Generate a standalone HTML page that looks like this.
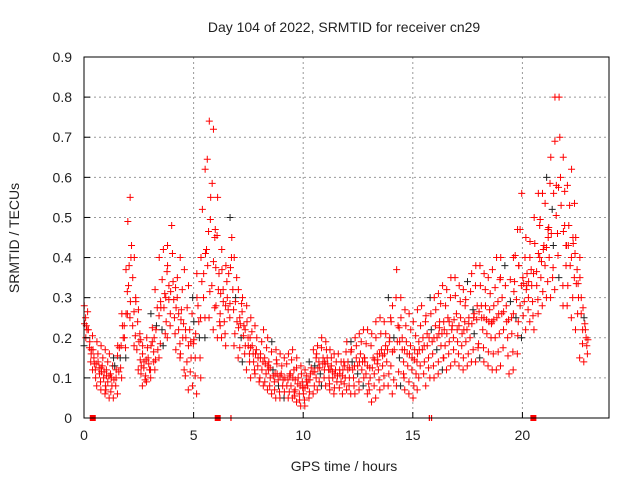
<!DOCTYPE html>
<html><head><meta charset="utf-8"><style>
body{margin:0;background:#fff}
svg text{font-family:"Liberation Sans",sans-serif;font-size:14px;fill:#222}
</style></head><body>
<svg id="c" width="640" height="480" xmlns="http://www.w3.org/2000/svg">
<rect width="640" height="480" fill="#fff"/>
<text x="344" y="32" text-anchor="middle">Day 104 of 2022, SRMTID for receiver cn29</text>
<text x="344" y="471" text-anchor="middle">GPS time / hours</text>
<text transform="translate(19,238) rotate(-90)" text-anchor="middle">SRMTID / TECUs</text>
<g id="grid"></g><g id="pts"></g><g id="ax"></g>
</svg>
<script>
const t0 = 0, dt = 0.2;
const lowVals = [.18,.12,.08,.07,.06,.05,.05,.06,.10,.15,.25,.18,.12,.08,.09,.10,.12,.15,.18,.20,.17,.15,.12,.07,.08,.06,.10,.20,.25,.22,.20,.20,.18,.25,.18,.15,.14,.12,.10,.09,.08,.07,.06,.05,.05,.05,.05,.05,.04,.03,.03,.05,.06,.07,.08,.08,.07,.06,.06,.07,.06,.06,.07,.08,.06,.04,.05,.07,.08,.08,.06,.08,.08,.07,.06,.05,.07,.08,.10,.10,.11,.12,.12,.13,.14,.13,.12,.13,.14,.14,.15,.14,.13,.12,.12,.13,.11,.12,.16,.20,.22,.24,.22,.26,.28,.30,.30,.32,.35,.28,.28,.25,.22,.15,.14];
const midLowVals = [.22,.16,.12,.11,.10,.09,.08,.10,.15,.20,.33,.23,.17,.11,.12,.14,.17,.22,.24,.26,.25,.22,.20,.14,.15,.15,.20,.30,.38,.33,.28,.26,.24,.32,.24,.20,.18,.16,.14,.13,.12,.11,.10,.09,.08,.08,.08,.08,.07,.06,.06,.08,.10,.11,.12,.12,.10,.09,.09,.10,.10,.10,.11,.12,.11,.10,.11,.12,.13,.14,.13,.15,.14,.13,.12,.11,.13,.14,.15,.16,.17,.18,.18,.19,.20,.19,.18,.19,.20,.21,.22,.21,.20,.20,.21,.22,.20,.21,.25,.28,.29,.30,.29,.33,.35,.38,.40,.43,.46,.38,.38,.35,.30,.22,.18];
const midHighVals = [.25,.19,.15,.14,.13,.12,.11,.13,.20,.26,.43,.30,.21,.14,.15,.19,.23,.29,.31,.33,.34,.30,.27,.22,.22,.24,.28,.42,.55,.45,.36,.32,.30,.40,.30,.25,.23,.20,.18,.17,.16,.15,.14,.12,.11,.11,.11,.12,.10,.09,.09,.11,.13,.14,.15,.15,.13,.12,.12,.14,.14,.14,.15,.16,.15,.15,.16,.17,.18,.20,.20,.23,.20,.19,.18,.17,.19,.20,.21,.22,.23,.24,.24,.25,.26,.25,.24,.25,.27,.28,.28,.28,.27,.28,.29,.30,.28,.29,.34,.38,.35,.36,.37,.40,.43,.47,.52,.58,.60,.48,.48,.45,.37,.30,.22];
const highVals = [.28,.22,.19,.18,.17,.16,.15,.18,.26,.37,.55,.40,.27,.18,.20,.26,.32,.40,.42,.43,.48,.40,.37,.33,.30,.36,.40,.62,.74,.72,.55,.42,.38,.50,.40,.32,.30,.28,.25,.23,.22,.20,.19,.17,.16,.15,.16,.17,.15,.13,.12,.14,.17,.18,.20,.19,.17,.16,.16,.19,.19,.20,.21,.22,.22,.21,.24,.25,.24,.30,.28,.37,.30,.27,.26,.24,.27,.28,.30,.30,.31,.33,.32,.35,.35,.33,.32,.34,.36,.38,.38,.36,.35,.37,.40,.40,.38,.40,.47,.56,.45,.44,.50,.56,.56,.60,.65,.80,.80,.65,.58,.62,.45,.40,.25];
const gapTimes = [0.4, 6.1, 20.5];
const gapTicks = [6.7, 15.75, 15.85];
const xTicks = [0,5,10,15,20];
const yTicks = [0,0.1,0.2,0.3,0.4,0.5,0.6,0.7,0.8,0.9];

const L=84,R=609,T=57,B=418,XMAX=23.95,YMAX=0.9;
const X=v=>L+v/XMAX*(R-L), Y=v=>B-v/YMAX*(B-T);
const NS="http://www.w3.org/2000/svg";
function mk(tag,attrs,parent){const e=document.createElementNS(NS,tag);for(const k in attrs)e.setAttribute(k,attrs[k]);parent.appendChild(e);return e;}
const grid=document.getElementById('grid'),pts=document.getElementById('pts'),ax=document.getElementById('ax');
xTicks.forEach(v=>{
  if(v>0){const g=mk('line',{x1:X(v),x2:X(v),y1:T,y2:B,stroke:'#999','stroke-dasharray':'2,3','stroke-width':1},grid);
  
  }
  const tk=mk('line',{x1:X(v),x2:X(v),y1:B,y2:B-6,stroke:'#000'},ax);
  
  
  const t=mk('text',{x:X(v),y:B+22,'text-anchor':'middle'},ax);t.textContent=v;
  
  
});
yTicks.forEach(v=>{
  if(v>0&&v<0.9){const g=mk('line',{x1:L,x2:R,y1:Y(v),y2:Y(v),stroke:'#999','stroke-dasharray':'2,3','stroke-width':1},grid);
  
  }
  const tk=mk('line',{x1:L,x2:L+6,y1:Y(v),y2:Y(v),stroke:'#000'},ax);
  
  
  const t=mk('text',{x:L-12,y:Y(v)+5,'text-anchor':'end'},ax);t.textContent=v===0?'0':v.toFixed(1);
  
  
});
const fr=mk('rect',{x:L,y:T,width:R-L,height:B-T,fill:'none',stroke:'#000','stroke-width':1},ax);


function cross(t,v,col){
  const x=X(t),y=Y(v);
  const p=mk('path',{d:`M${x-3.5},${y}h7M${x},${y-3.5}v7`,stroke:col,'stroke-width':1,fill:'none'},pts);
  
  
}
const series=[lowVals,midLowVals,midHighVals,highVals];
series.forEach((arr,s)=>arr.forEach((v,i)=>{
  const t=t0+i*dt;
  const j1=((i*37+s*13)%19)/19*dt;
  const j2=((i*53+s*29+7)%17)/17*dt;
  cross(t+j1,v,(i+s)%9===0?'#222':'#f00');
  cross(t+j2,(v+series[(s+1)%4][i])/2,'#f00');
}));
gapTimes.forEach(g=>{
  const r=mk('rect',{x:X(g)-3,y:B-3,width:6,height:6,fill:'#f00'},pts);
  
  
});
gapTicks.forEach(g=>{
  const r=mk('rect',{x:X(g)-0.5,y:B-3,width:1.2,height:6,fill:'#f00'},pts);
  
  
});
</script>
</body></html>
